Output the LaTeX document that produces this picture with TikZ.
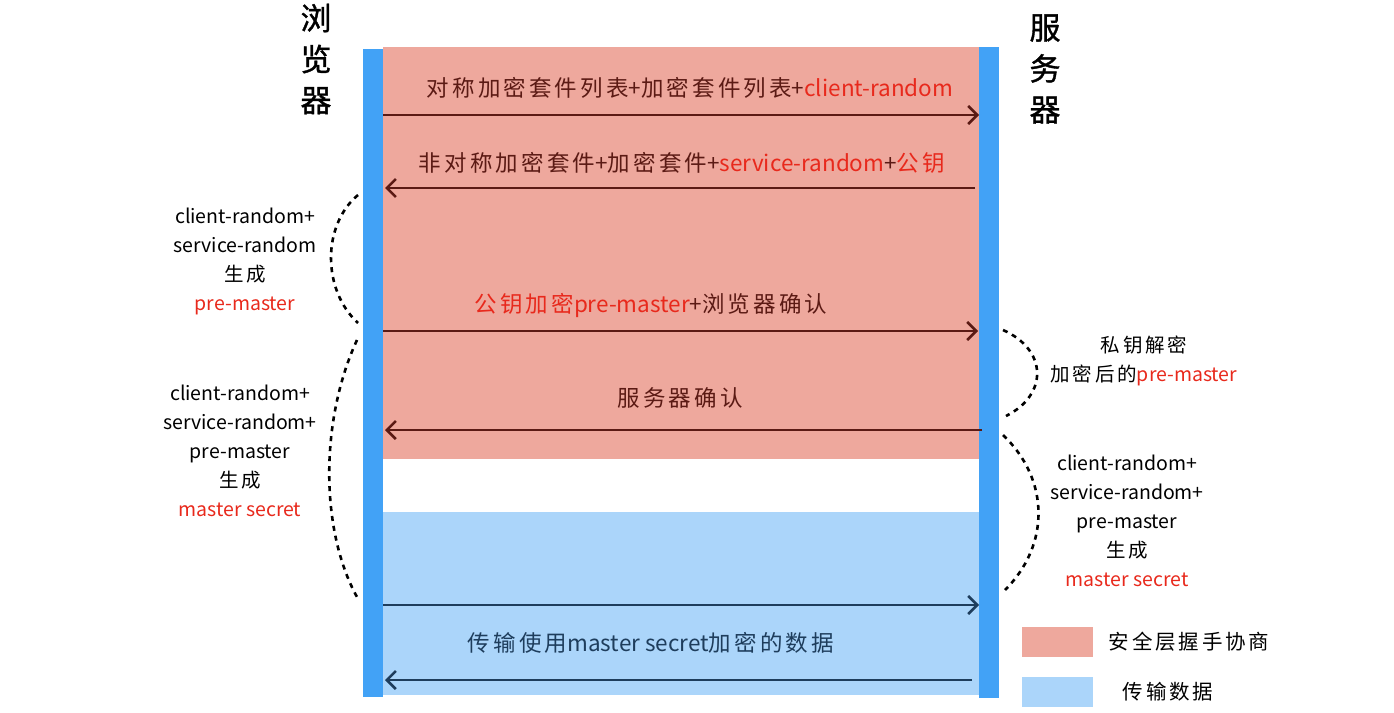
\documentclass[tikz,border=0pt]{standalone}
\usepackage{fontspec}
\setmainfont{Noto Sans CJK SC}
\newfontfamily\zhfont[LetterSpace=14]{Noto Sans CJK SC}
\newfontfamily\titlefont[FakeBold=1.2]{Noto Sans CJK SC}
\usetikzlibrary{positioning,arrows.meta}
\definecolor{hs-pink}{HTML}{EEA89D}
\definecolor{hs-blue}{HTML}{42A2F6}
\definecolor{hs-lightblue}{HTML}{ABD5FA}
\definecolor{hs-red}{HTML}{E8291C}
\definecolor{hs-brown}{HTML}{5B1A14}
\definecolor{hs-navy}{HTML}{1E3D5C}
\newlength{\basisp}
\setlength{\basisp}{1pt}
\newcommand{\zh}[1]{{\zhfont #1}}
\newcommand{\hl}[1]{\textcolor{hs-red}{#1}}

\begin{document}
\begin{tikzpicture}[
    msg/.style={-{Straight Barb[length=9pt,width=18pt]}, line width=2.6\basisp},
    msgtext/.style={font=\fontsize{22.5}{26}\selectfont},
    note/.style={align=center, font=\fontsize{19.5}{29}\selectfont},
    arc/.style={line width=2.6\basisp, dash pattern=on 5\basisp off 5\basisp}]
    \useasboundingbox (0\basisp,0\basisp) rectangle (1394\basisp,-712\basisp);

    \draw (681\basisp,-253\basisp) 
		node[minimum height=412\basisp,fill=hs-pink,minimum width=596\basisp,inner sep=0] 
			(Handshake) {};
    \draw (681\basisp,-603.5\basisp) 
		node[minimum height=183\basisp,fill=hs-lightblue,minimum width=596\basisp,inner sep=0] 
			(Transfer) {};

    \draw (373\basisp,-373\basisp) 
		node[minimum height=648\basisp,fill=hs-blue,minimum width=20\basisp,inner sep=0] 
			(Browser) {};
    \draw (989\basisp,-372.5\basisp) 
		node[minimum height=651\basisp,fill=hs-blue,minimum width=20\basisp,inner sep=0] 
			(Server) {};

    \draw (316\basisp,-59\basisp) 
		node[align=center, font=\fontsize{31}{41}\titlefont] 
			(BrowserTitle) {浏\\览\\器};
    \draw (1045\basisp,-69\basisp) 
		node[align=center, font=\fontsize{31}{41}\titlefont] 
			(ServerTitle) {服\\务\\器};

    % handshake messages
    \draw (690\basisp,-88\basisp) 
		node[msgtext, text=hs-brown] 
			(MsgHello) {\zh{对称加密套件列表}+\zh{加密套件列表}+\hl{client-random}};
    \draw (682\basisp,-163\basisp) 
		node[msgtext, text=hs-brown] 
			(MsgReply) {\zh{非对称加密套件}+\zh{加密套件}+\hl{service-random}+\hl{\zh{公钥}}};
    \draw (651\basisp,-306\basisp) 
		node[msgtext, text=hs-brown] 
			(MsgPre) {\hl{\zh{公钥加密}pre-master}+\zh{浏览器确认}};
    \draw (680\basisp,-398\basisp) 
		node[msgtext, text=hs-brown] 
			(MsgAck) {\zh{服务器确认}};
    \draw (651\basisp,-643\basisp) 
		node[msgtext, text=hs-navy] 
			(MsgData) {\zh{传输使用}master secret\zh{加密的数据}};

    \coordinate (a1s) at (383\basisp,-115\basisp);
    \coordinate (a1e) at (979\basisp,-115\basisp);
    \coordinate (a2s) at (975\basisp,-188\basisp);
    \coordinate (a2e) at (385\basisp,-188\basisp);
    \coordinate (a3s) at (383\basisp,-331\basisp);
    \coordinate (a3e) at (978\basisp,-331\basisp);
    \coordinate (a4s) at (982\basisp,-430\basisp);
    \coordinate (a4e) at (385\basisp,-430\basisp);
    \coordinate (a5s) at (383\basisp,-605\basisp);
    \coordinate (a5e) at (979\basisp,-605\basisp);
    \coordinate (a6s) at (972\basisp,-680\basisp);
    \coordinate (a6e) at (385\basisp,-680\basisp);

	\draw[msg, hs-brown] (a1s) -- (a1e);
	\draw[msg, hs-brown] (a2s) -- (a2e);
	\draw[msg, hs-brown] (a3s) -- (a3e);
	\draw[msg, hs-brown] (a4s) -- (a4e);
	\draw[msg, hs-navy] (a5s) -- (a5e);
	\draw[msg, hs-navy] (a6s) -- (a6e);

    % side notes
    \draw (245\basisp,-261\basisp) 
		node[note] 
			(NotePre) {client-random+\\service-random\\\zh{生成}\\\hl{pre-master}};
    \draw (240\basisp,-451\basisp) 
		node[note] 
			(NoteMasterB) {client-random+\\service-random+\\pre-master\\\zh{生成}\\\hl{master secret}};
    \draw (1144\basisp,-361\basisp) 
		node[note] 
			(NoteDecrypt) {\zh{私钥解密}\\\zh{加密后的}\hl{pre-master}};
    \draw (1127\basisp,-521\basisp) 
		node[note] 
			(NoteMasterS) {client-random+\\service-random+\\pre-master\\\zh{生成}\\\hl{master secret}};

    \coordinate (b1s) at (358\basisp,-195\basisp);
    \coordinate (b1e) at (358\basisp,-323\basisp);
    \coordinate (b2s) at (357\basisp,-340\basisp);
    \coordinate (b2e) at (357\basisp,-597\basisp);
    \coordinate (s1s) at (1003\basisp,-330\basisp);
    \coordinate (s1e) at (1006\basisp,-416\basisp);
    \coordinate (s2s) at (1003\basisp,-435\basisp);
    \coordinate (s2e) at (1005\basisp,-590\basisp);

	\draw[arc] (b1s) .. controls (322\basisp,-225\basisp) and (322\basisp,-290\basisp) .. (b1e);
	\draw[arc] (b2s) .. controls (320\basisp,-420\basisp) and (320\basisp,-530\basisp) .. (b2e);
	\draw[arc] (s1s) .. controls (1048\basisp,-350\basisp) and (1048\basisp,-395\basisp) .. (s1e);
	\draw[arc] (s2s) .. controls (1050\basisp,-480\basisp) and (1050\basisp,-545\basisp) .. (s2e);

    % legend
    \draw (1057.5\basisp,-642\basisp) 
		node[minimum height=30\basisp,fill=hs-pink,minimum width=71\basisp,inner sep=0] 
			(KeyHandshake) {};
    \draw (1057.5\basisp,-692\basisp) 
		node[minimum height=30\basisp,fill=hs-lightblue,minimum width=71\basisp,inner sep=0] 
			(KeyTransfer) {};
    \node[right=12\basisp of KeyHandshake, font=\fontsize{20.5}{24}\selectfont\zhfont] (KeyHandshakeText) {安全层握手协商};
    \node[right=26\basisp of KeyTransfer, font=\fontsize{20.5}{24}\selectfont\zhfont] (KeyTransferText) {传输数据};
\end{tikzpicture}
\end{document}
